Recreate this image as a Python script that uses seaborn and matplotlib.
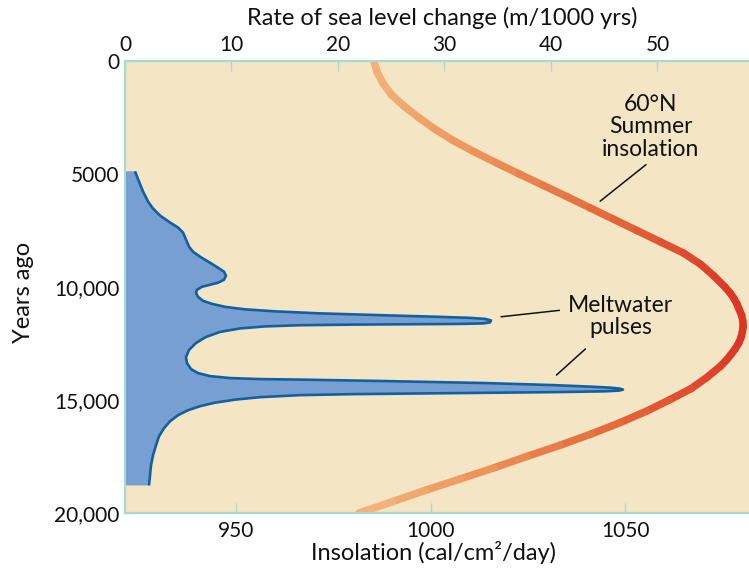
import numpy as np
import matplotlib
matplotlib.use("Agg")
import matplotlib.pyplot as plt
import seaborn as sns
from matplotlib.collections import LineCollection
from matplotlib.colors import LinearSegmentedColormap

sns.set_theme(style="white")
plt.rcParams['font.family'] = ['Lato', 'DejaVu Sans']

# 60°N summer insolation (cal/cm²/day) against years ago
insol_years = [0, 500, 1000, 1500, 2000, 2500, 3000, 3500, 4000, 4500, 5000,
               5500, 6000, 6500, 7000, 7500, 8000, 8500, 9000, 9500, 10000,
               10250, 10500, 10750, 11000, 11250, 11500, 11750, 12000, 12250,
               12500, 12750, 13000, 13250, 13500, 14000, 14500,
               15000, 15500, 16000, 16500, 17000, 17500, 18000, 18500, 19000,
               19500, 20000]
insolation = [985.4, 986.3, 987.8, 990.0, 993.2, 996.9, 1001.0, 1005.6, 1011.0,
              1016.8, 1022.8, 1028.9, 1035.0, 1041.0, 1047.0, 1053.0, 1059.0,
              1065.0, 1069.4, 1072.7, 1075.6,
              1076.9, 1077.9, 1078.7, 1079.3, 1079.9, 1080.2, 1080.3, 1080.1,
              1079.7, 1079.1, 1078.2, 1077.1, 1075.9, 1074.5, 1071.0, 1066.9,
              1061.3, 1055.4, 1048.7, 1041.3, 1033.3, 1024.7, 1016.3, 1007.5,
              998.6, 990.2, 981.6]

# Outline of the rate of sea level change (m/1000 yrs), traced in time order
melt_years = [4880, 5328, 5772, 6216, 6527, 6838, 7148, 7370, 7592, 7903,
              8214, 8436, 8658, 8924, 9146, 9324, 9502, 9679, 9812, 9901,
              9990, 10123, 10256, 10434, 10612, 10745, 10878, 10989, 11078,
              11167, 11255, 11322, 11366, 11411, 11477, 11566, 11611, 11633,
              11646, 11664, 11691, 11744, 11833, 11988, 12210, 12476, 12787,
              13098, 13364, 13631, 13808, 13942, 14030, 14075, 14097, 14164,
              14252, 14341, 14408, 14452, 14497, 14541, 14585, 14616, 14652,
              14696, 14741, 14785, 14874, 14985, 15118, 15274, 15451, 15673,
              15940, 16250, 16606, 17005, 17449, 17893, 18337, 18781]
melt_rate = [0.94, 1.31, 1.69, 2.16, 2.63, 3.29, 4.23, 4.98, 5.45, 5.73,
             6.01, 6.38, 7.04, 7.98, 8.73, 9.30, 9.48, 9.30, 8.73, 7.98,
             7.23, 6.76, 6.67, 6.85, 7.32, 8.17, 9.39, 11.27, 14.08,
             18.31, 24.60, 29.58, 32.39, 33.80, 34.37, 34.27, 33.62, 31.46,
             27.70, 21.41, 16.43, 13.15, 10.80, 8.92, 7.61, 6.67, 6.01,
             5.73, 5.82, 6.20, 6.85, 7.98, 9.86, 12.68, 16.43, 24.60,
             33.99, 40.19, 43.66, 45.54, 46.48, 46.76, 46.38, 45.07, 40.19,
             30.80, 21.41, 16.43, 12.68, 10.33, 8.45, 7.04, 5.92, 4.98,
             4.23, 3.66, 3.19, 2.91, 2.63, 2.44, 2.35, 2.25]

year_ticks = [0, 5000, 10000, 15000, 20000]
year_labels = ["0", "5000", "10,000", "15,000", "20,000"]
insol_ticks = [950, 1000, 1050]
rate_ticks = [0, 10, 20, 30, 40, 50]

BG = "#f4e5c4"
TEAL = "#a9dad2"
TXT = "#111111"
TICK_FS = 15
LABEL_FS = 17
NOTE_FS = 16.5

fig = plt.figure(figsize=(7.49, 5.73), dpi=100)
fig.patch.set_facecolor("white")
ax = fig.add_axes([125 / 749, 60 / 573, 624 / 749, 452 / 573])
ax.set_facecolor(BG)
ax.set_xlim(921.5, 1081.8)
ax.set_ylim(20000, 0)

ax_rate = ax.twiny()
ax_rate.set_xlim(0, 58.6)

# sea level change: filled shape with a darker outline
fill_x = [0] + melt_rate + [0]
fill_y = [melt_years[0]] + melt_years + [melt_years[-1]]
ax_rate.fill(fill_x, fill_y, color="#789fd2", lw=0, zorder=2)
sns.lineplot(x=melt_rate, y=melt_years, sort=False, estimator=None,
             ax=ax_rate, color="#12609f", lw=1.9, zorder=3)
ax_rate.lines[-1].set_solid_joinstyle("round")
ax_rate.lines[-1].set_solid_capstyle("butt")

# insolation curve shaded from orange to red with intensity
cmap = LinearSegmentedColormap.from_list(
    "insol", ["#f3b67c", "#ec9058", "#e4673a", "#dc3524"])
pts = np.column_stack([insolation, insol_years])
segs = np.stack([pts[:-1], pts[1:]], axis=1)
mid = (np.array(insolation[:-1]) + np.array(insolation[1:])) / 2
lc = LineCollection(segs, cmap=cmap, norm=plt.Normalize(982, 1080.3),
                    linewidths=5.4, capstyle="round", joinstyle="round",
                    zorder=2)
lc.set_array(mid)
ax.add_collection(lc)

# axes, ticks and spines
for a in (ax, ax_rate):
    for side in ("left", "top", "bottom"):
        a.spines[side].set_color(TEAL)
        a.spines[side].set_linewidth(1.5)
    a.spines["right"].set_visible(False)

ax.set_yticks(year_ticks)
ax.set_yticklabels(year_labels)
ax.set_xticks(insol_ticks)
ax.set_xticklabels([str(t) for t in insol_ticks])
ax.tick_params(axis="both", which="both", direction="in", length=7, width=1,
               color=TEAL, labelsize=TICK_FS, labelcolor=TXT)
ax.tick_params(axis="x", pad=6, bottom=True, top=False)
ax.tick_params(axis="y", pad=4, left=True, right=False)

ax_rate.set_xticks(rate_ticks)
ax_rate.set_xticklabels([str(t) for t in rate_ticks])
ax_rate.tick_params(axis="x", direction="in", length=7, width=1, color=TEAL,
                    labelsize=TICK_FS, labelcolor=TXT, pad=4, top=True,
                    bottom=False)

ax.set_xlabel("Insolation (cal/cm²/day)", fontsize=LABEL_FS, color=TXT)
ax.xaxis.set_label_coords(0.495, -0.088)
ax.xaxis.label.set_va("center")
ax.set_ylabel("Years ago", fontsize=LABEL_FS, color=TXT)
ax.yaxis.set_label_coords(-0.163, 0.489)
ax.yaxis.label.set_va("center")
ax_rate.set_xlabel("Rate of sea level change (m/1000 yrs)", fontsize=LABEL_FS,
                   color=TXT)
ax_rate.xaxis.set_label_coords(0.508, 1.095)
ax_rate.xaxis.label.set_va("center")

# annotations
ax.text(1056.5, 2920, "60°N\nSummer\ninsolation", ha="center", va="center",
        multialignment="center", fontsize=NOTE_FS, color=TXT, linespacing=1.1,
        zorder=4)
ax.annotate("", xy=(1043.0, 6280), xytext=(1055.9, 4510),
            arrowprops=dict(arrowstyle="-", color=TXT, lw=1.1))

ax.text(1048.8, 11300, "Meltwater\npulses", ha="center", va="center",
        multialignment="center", fontsize=NOTE_FS, color=TXT, linespacing=1.1,
        zorder=4)
ax.annotate("", xy=(1017.4, 11330), xytext=(1033.8, 11020),
            arrowprops=dict(arrowstyle="-", color=TXT, lw=1.1))
ax.annotate("", xy=(1031.8, 13980), xytext=(1040.3, 12660),
            arrowprops=dict(arrowstyle="-", color=TXT, lw=1.1))

fig.savefig("out.png", dpi=100, facecolor="white")
